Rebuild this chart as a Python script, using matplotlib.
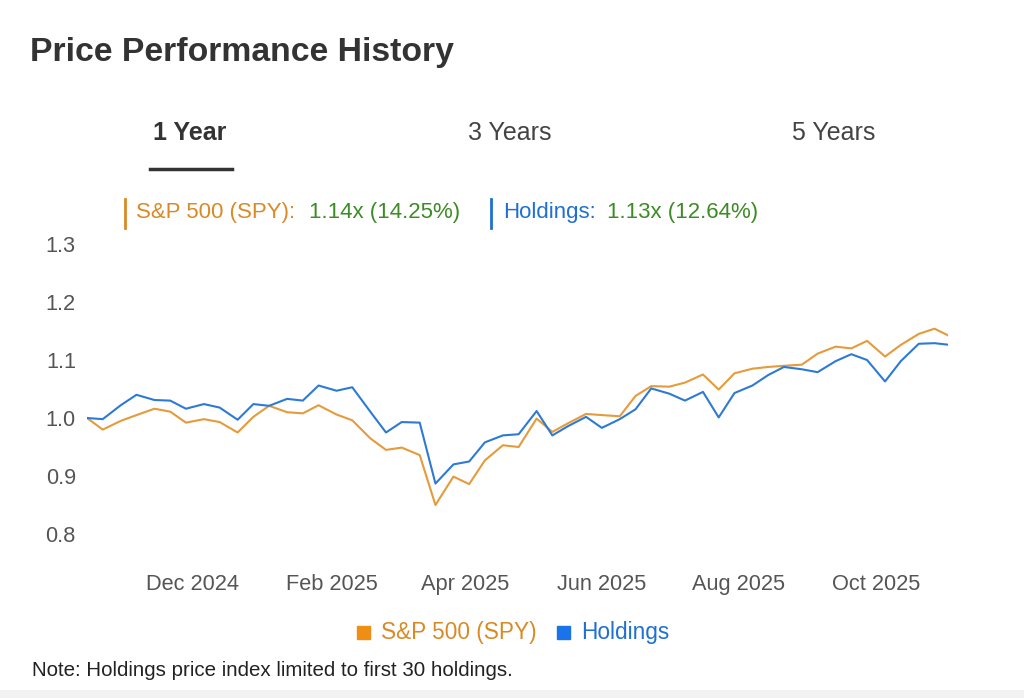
import matplotlib
matplotlib.use("Agg")
import matplotlib.pyplot as plt
import matplotlib.dates as mdates
from matplotlib.patches import Rectangle
from matplotlib.lines import Line2D
import pandas as pd

plt.rcParams["font.family"] = ["Liberation Sans", "DejaVu Sans"]

dates = [
    "2024-10-15", "2024-10-22", "2024-10-30", "2024-11-06", "2024-11-14",
    "2024-11-21", "2024-11-28", "2024-12-06", "2024-12-13", "2024-12-21",
    "2024-12-28", "2025-01-04", "2025-01-12", "2025-01-19", "2025-01-26",
    "2025-02-03", "2025-02-10", "2025-02-18", "2025-02-25", "2025-03-04",
    "2025-03-12", "2025-03-19", "2025-03-27", "2025-04-03", "2025-04-10",
    "2025-04-18", "2025-04-25", "2025-05-03", "2025-05-10", "2025-05-17",
    "2025-05-25", "2025-06-01", "2025-06-09", "2025-06-16", "2025-06-23",
    "2025-07-01", "2025-07-08", "2025-07-16", "2025-07-23", "2025-07-30",
    "2025-08-07", "2025-08-14", "2025-08-21", "2025-08-29", "2025-09-05",
    "2025-09-13", "2025-09-20", "2025-09-27", "2025-10-05", "2025-10-12",
    "2025-10-20", "2025-10-27", "2025-11-02",
]

spy = [
    1.000, 0.980, 0.995, 1.005, 1.016, 1.011, 0.992, 0.998, 0.993, 0.975,
    1.002, 1.021, 1.010, 1.008, 1.022, 1.006, 0.996, 0.965, 0.945, 0.949,
    0.936, 0.850, 0.899, 0.886, 0.927, 0.953, 0.950, 0.999, 0.976, 0.991,
    1.007, 1.005, 1.003, 1.038, 1.055, 1.054, 1.061, 1.075, 1.049, 1.077,
    1.085, 1.088, 1.090, 1.092, 1.111, 1.123, 1.120, 1.133, 1.106, 1.126,
    1.145, 1.154, 1.1425,
]

holdings = [
    1.000, 0.998, 1.022, 1.040, 1.031, 1.030, 1.016, 1.024, 1.018, 0.997,
    1.024, 1.021, 1.033, 1.030, 1.056, 1.047, 1.053, 1.011, 0.975, 0.993,
    0.992, 0.887, 0.920, 0.925, 0.958, 0.970, 0.972, 1.012, 0.970, 0.986,
    1.002, 0.983, 0.998, 1.015, 1.051, 1.042, 1.030, 1.045, 1.001, 1.043,
    1.056, 1.074, 1.088, 1.084, 1.079, 1.098, 1.110, 1.100, 1.063, 1.098,
    1.128, 1.129, 1.1264,
]

y_ticks = [0.8, 0.9, 1.0, 1.1, 1.2, 1.3]
tabs = ["1 Year", "3 Years", "5 Years"]

ORANGE_LINE = "#E59B3B"
BLUE_LINE = "#2D7AD5"
ORANGE_TXT = "#DA8A25"
BLUE_TXT = "#1F70D2"
GREEN_TXT = "#3D8B26"
GREY = "#555555"

x = pd.to_datetime(dates)

fig = plt.figure(figsize=(10.24, 6.98), dpi=100)
W, H = 1024, 698


def fx(px):
    return px / W


def fy(py):
    return 1 - py / H


ax = fig.add_axes([fx(87), fy(534), fx(948) - fx(87), fy(244) - fy(534)])
ax.plot(x, spy, color=ORANGE_LINE, lw=1.5, zorder=3)
ax.plot(x, holdings, color=BLUE_LINE, lw=1.5, zorder=4)

ax.set_xlim(x[0], x[-1])
ax.set_ylim(0.8, 1.3)
ax.set_yticks(y_ticks)
ax.set_yticklabels([f"{v:.1f}" for v in y_ticks])
ax.xaxis.set_major_locator(mdates.MonthLocator(bymonth=[12, 2, 4, 6, 8, 10]))
ax.xaxis.set_major_formatter(mdates.DateFormatter("%b %Y"))
ax.tick_params(axis="both", length=0, labelsize=15.7, labelcolor=GREY)
ax.tick_params(axis="y", pad=8)
ax.tick_params(axis="x", pad=28.5)
for s in ax.spines.values():
    s.set_visible(False)

# title
fig.text(fx(30), fy(52), "Price Performance History", fontsize=24.3, fontweight="bold",
         color="#333333", ha="left", va="center")

# tabs
tab_x = [190, 510, 834]
for i, (t, px) in enumerate(zip(tabs, tab_x)):
    fig.text(fx(px), fy(133), t, fontsize=18, color="#333333" if i == 0 else "#444444",
             fontweight="bold" if i == 0 else "normal", ha="center", va="center")
fig.add_artist(Line2D([fx(150), fx(232)], [fy(169), fy(169)], color="#333333", lw=2.5))

# header stats
fig.add_artist(Line2D([fx(125), fx(125)], [fy(199), fy(228)], color=ORANGE_TXT, lw=2))
fig.text(fx(136), fy(213), "S&P 500 (SPY):", fontsize=16, color=ORANGE_TXT, ha="left", va="center")
fig.text(fx(309), fy(213), "1.14x (14.25%)", fontsize=16, color=GREEN_TXT, ha="left", va="center")
fig.add_artist(Line2D([fx(491), fx(491)], [fy(199), fy(228)], color=BLUE_TXT, lw=2))
fig.text(fx(503), fy(213), "Holdings:", fontsize=16, color=BLUE_TXT, ha="left", va="center")
fig.text(fx(607), fy(213), "1.13x (12.64%)", fontsize=16, color=GREEN_TXT, ha="left", va="center")

# legend
fig.add_artist(Rectangle((fx(357), fy(639)), fx(13), 13 / H, color="#EE8E14"))
fig.text(fx(381), fy(632), "S&P 500 (SPY)", fontsize=16.3, color=ORANGE_TXT, ha="left", va="center")
fig.add_artist(Rectangle((fx(557), fy(639)), fx(13), 13 / H, color="#1A73E8"))
fig.text(fx(581), fy(632), "Holdings", fontsize=16.3, color=BLUE_TXT, ha="left", va="center")

# note
fig.text(fx(32), fy(670), "Note: Holdings price index limited to first 30 holdings.",
         fontsize=14.8, color="#222222", ha="left", va="center")

# light band at the bottom
fig.add_artist(Rectangle((0, 0), 1, 8 / H, color="#F2F2F2", lw=0))

fig.savefig("out.png", dpi=100)
